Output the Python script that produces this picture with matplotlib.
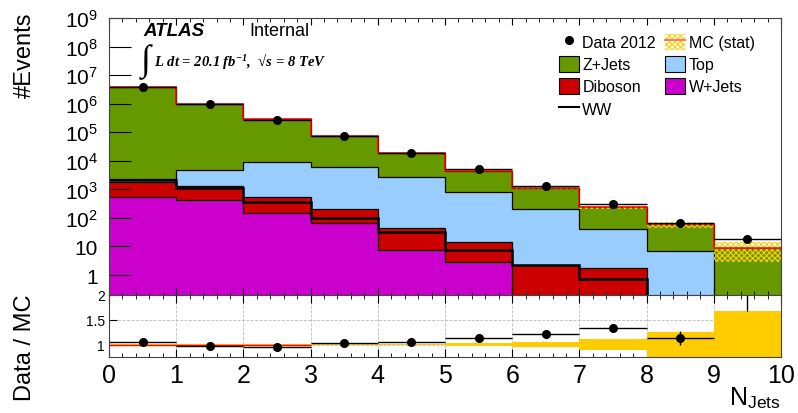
import numpy as np
import matplotlib
matplotlib.use("Agg")
import matplotlib.pyplot as plt
from matplotlib.patches import Patch
from matplotlib.lines import Line2D
from matplotlib.ticker import FixedLocator, FuncFormatter, MultipleLocator

plt.rcParams['font.family'] = ['Liberation Sans', 'DejaVu Sans']
plt.rcParams['mathtext.fontset'] = 'custom'
plt.rcParams['mathtext.rm'] = 'Liberation Serif:bold:italic'
plt.rcParams['mathtext.it'] = 'Liberation Serif:bold:italic'
plt.rcParams['hatch.linewidth'] = 0.8

# jet multiplicity bins 0..9
edges = np.arange(11)
data = np.array([3910000, 944000, 276000, 76400, 19500, 5100, 1345, 317, 67, 19])

# backgrounds, stacked bottom -> top
wjets = np.array([556, 424, 145, 69, 7.6, 2.77, 0, 0, 0, 0])
diboson = np.array([1298, 921, 411, 136, 38.4, 11.4, 2.29, 1.75, 0, 0])
top = np.array([468, 3365, 8694, 5975, 2724, 816, 198, 38.5, 6.7, 0])
zjets = np.array([3720000, 958000, 278000, 68000, 15600, 3680, 900, 196, 52.3, 8.75])
# WW drawn on its own, not stacked
ww = np.array([2200, 1083, 352, 103, 31.6, 7.45, 2.2, 0.74, 0, 0])
# relative MC statistical uncertainty
mc_stat = np.array([0.004, 0.004, 0.006, 0.008, 0.012, 0.025, 0.05, 0.11, 0.25, 0.67])

c_z = '#669900'
c_top = '#99ccff'
c_dib = '#cc0000'
c_w = '#cc00cc'
c_band = '#ffcc00'

fig = plt.figure(figsize=(7.98, 4.14), dpi=100)
ax = fig.add_axes([109 / 798, 1 - 296 / 414, 672 / 798, 277 / 414])
rax = fig.add_axes([109 / 798, 1 - 358 / 414, 672 / 798, 62 / 414], sharex=ax)

# stack
layers = [(wjets, c_w), (diboson, c_dib), (top, c_top), (zjets, c_z)]
cum = np.zeros(10)
for vals, col in layers:
    new = cum + vals
    ax.stairs(np.maximum(new, 1e-3), edges, baseline=np.maximum(cum, 1e-3),
              fill=True, color=col, lw=0)
    cum = new
cum = np.zeros(10)
for vals, col in layers:
    cum = cum + vals
    ax.stairs(np.maximum(cum, 1e-3), edges, baseline=None, color='black', lw=0.9)
total = cum

# MC stat band + total line
ax.stairs(total * (1 + mc_stat), edges, baseline=total * (1 - mc_stat), fill=True,
          facecolor='none', edgecolor=c_band, hatch='xxxxxx', lw=0)
ax.stairs(total, edges, baseline=None, color='red', lw=1.1)

ax.stairs(np.maximum(ww, 1e-3), edges, baseline=None, color='black', lw=1.8)

centers = edges[:-1] + 0.5
ax.errorbar(centers, data, xerr=0.5, yerr=np.sqrt(data), fmt='o', color='black',
            ms=5.5, elinewidth=1, capsize=0)

ax.set_yscale('log')
ax.set_ylim(0.2, 1e9)
ax.set_xlim(0, 10)
ax.yaxis.set_major_locator(FixedLocator([10.0 ** k for k in range(10)]))


def logfmt(v, pos):
    n = int(round(np.log10(v)))
    if n == 0:
        return '1'
    if n == 1:
        return '10'
    return r'$\mathdefault{10^{%d}}$' % n


ax.yaxis.set_major_formatter(FuncFormatter(logfmt))
ax.tick_params(axis='y', which='major', direction='in', length=16, width=0.8,
               labelsize=15, pad=8)
ax.tick_params(axis='y', which='minor', direction='in', length=8, width=0.6)
ax.tick_params(axis='x', which='both', direction='in', top=True, labelbottom=False)
ax.tick_params(axis='x', which='major', length=5)
ax.tick_params(axis='x', which='minor', length=3)
ax.xaxis.set_major_locator(MultipleLocator(1))
ax.xaxis.set_minor_locator(MultipleLocator(0.2))
for sp in ax.spines.values():
    sp.set_linewidth(0.8)
    sp.set_color('#444444')

# ATLAS label and luminosity
fig.text(143 / 798, 1 - 32 / 414, 'ATLAS', fontsize=13.5, fontweight='bold',
         fontstyle='italic', va='center', ha='left')
fig.text(249 / 798, 1 - 32 / 414, 'Internal', fontsize=13, va='center', ha='left')
fig.text(141 / 798, 1 - 62 / 414, '\u222b', family='Liberation Serif', fontsize=26,
         va='center', ha='left')
fig.text(154 / 798, 1 - 66 / 414, 'L dt = 20.1 fb$^{-1}$,  \u221as = 8 TeV',
         family='Liberation Serif', fontweight='bold', fontstyle='italic',
         fontsize=10.5, va='baseline', ha='left')

# legend
handles = [
    Line2D([], [], marker='o', color='black', ls='none', ms=5.5),
    Patch(facecolor=c_z, edgecolor='black', lw=0.8),
    Patch(facecolor=c_dib, edgecolor='black', lw=0.8),
    Line2D([], [], color='black', lw=1.5),
    (Patch(facecolor='none', edgecolor=c_band, hatch='xxxxxx', lw=0),
     Line2D([], [], color='#ff7766', lw=1.5)),
    Patch(facecolor=c_top, edgecolor='black', lw=0.8),
    Patch(facecolor=c_w, edgecolor='black', lw=0.8),
]
labels = ['Data 2012', 'Z+Jets', 'Diboson', 'WW', 'MC (stat)', 'Top', 'W+Jets']
ax.legend(handles, labels, ncol=2, loc='upper left', bbox_to_anchor=(0.67, 0.944),
          frameon=False, fontsize=11.5, handlelength=1.25, handleheight=1.2,
          handletextpad=0.2, columnspacing=0.6, labelspacing=0.35, borderpad=0,
          borderaxespad=0)

# ratio panel
ratio = data / total
ratio_err = np.sqrt(data) / total
rax.hlines(1, 0, 3, color='red', lw=1)
rax.stairs(1 + mc_stat, edges, baseline=1 - mc_stat, fill=True, color=c_band, lw=0)
rax.errorbar(centers, ratio, xerr=0.5, yerr=ratio_err, fmt='o', color='black',
             ms=5.5, elinewidth=1, capsize=0)
rax.set_ylim(0.75, 2.0)
rax.set_xlim(0, 10)
rax.set_yticks([1, 1.5, 2])
rax.set_yticklabels(['1', '1.5', '2'])
rax.grid(True, which='major', ls='--', lw=0.6, color='#bbbbbb')
rax.set_axisbelow(True)
rax.tick_params(axis='y', direction='in', length=6, width=0.8, labelsize=10, pad=3)
rax.tick_params(axis='x', which='both', direction='in', top=True, labelsize=18, pad=4)
rax.tick_params(axis='x', which='major', length=6)
rax.tick_params(axis='x', which='minor', length=3)
rax.xaxis.set_major_locator(MultipleLocator(1))
rax.xaxis.set_minor_locator(MultipleLocator(0.2))
for sp in rax.spines.values():
    sp.set_linewidth(0.8)
    sp.set_color('#444444')

fig.text(25 / 798, 1 - 13 / 414, '#Events', rotation=90, fontsize=17, ha='center', va='top')
fig.text(25 / 798, 1 - 348 / 414, 'Data / MC', rotation=90, fontsize=17, ha='center',
         va='center')
fig.text(781 / 798, 1 - 385 / 414, r'N$_{\mathdefault{Jets}}$', fontsize=18, ha='right',
         va='top')

fig.savefig('out.png', dpi=100)
